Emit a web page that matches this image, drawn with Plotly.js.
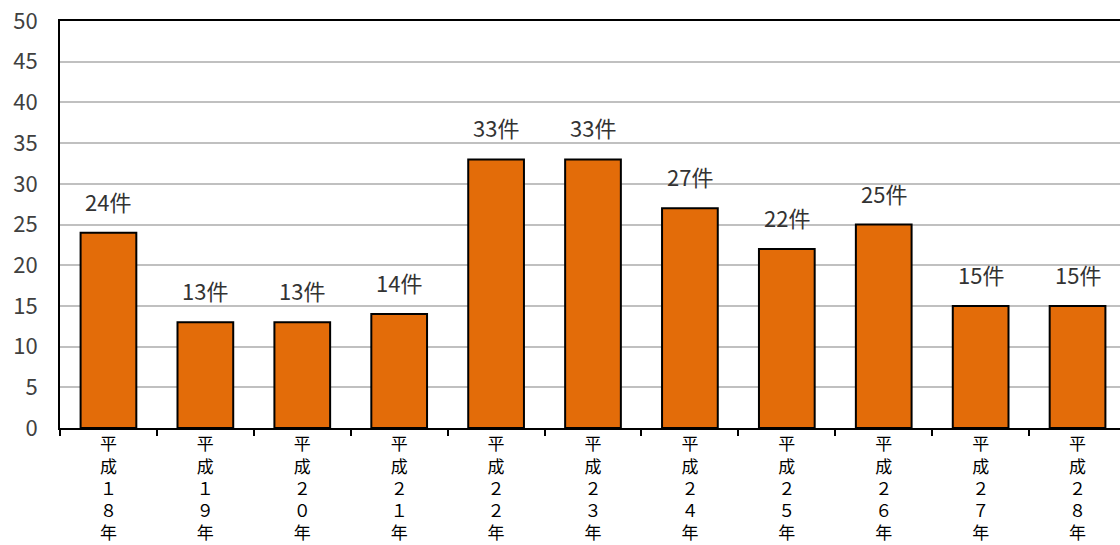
<!DOCTYPE html>
<html><head><meta charset="utf-8">
<script src="https://cdn.plot.ly/plotly-3.0.1.min.js"></script>
<style>html,body{margin:0;padding:0;overflow:hidden;background:#fff}</style>
</head><body><div id="chart"></div>
<script>
const categories = ["平<br>成<br>１<br>８<br>年","平<br>成<br>１<br>９<br>年","平<br>成<br>２<br>０<br>年","平<br>成<br>２<br>１<br>年","平<br>成<br>２<br>２<br>年","平<br>成<br>２<br>３<br>年","平<br>成<br>２<br>４<br>年","平<br>成<br>２<br>５<br>年","平<br>成<br>２<br>６<br>年","平<br>成<br>２<br>７<br>年","平<br>成<br>２<br>８<br>年"];
const values = [24,13,13,14,33,33,27,22,25,15,15];
const labelSuffix = "件";
const yTicks = [0,5,10,15,20,25,30,35,40,45,50];

const font = "'Noto Sans CJK JP', 'Open Sans', sans-serif";
const tickFont = "'Liberation Sans', 'Noto Sans CJK JP', sans-serif";
const trace = {
  type: 'bar', x: categories, y: values,
  marker: {color: '#E36C09', line: {color: '#000', width: 2}},
  hoverinfo: 'none'
};
const annotations = categories.map((c, i) => ({
  x: c, y: values[i], text: values[i] + labelSuffix, showarrow: false,
  yanchor: 'bottom', yshift: 14, font: {family: font, size: 22, color: '#333'}
}));
const layout = {
  width: 1126, height: 545,
  margin: {l: 60, r: 0, t: 21, b: 117},
  paper_bgcolor: '#fff', plot_bgcolor: '#fff',
  bargap: 0.425, showlegend: false,
  font: {family: font},
  xaxis: {
    type: 'category', showline: true, linecolor: '#000', linewidth: 2, mirror: true,
    ticks: 'outside', tickson: 'boundaries', ticklen: 6, tickcolor: '#000', tickwidth: 2,
    tickfont: {family: tickFont, size: 17, color: '#000'}, tickangle: 0, showgrid: false
  },
  yaxis: {
    range: [0, 50], tickvals: yTicks, showline: true, linecolor: '#000', linewidth: 2, mirror: true,
    showgrid: true, gridcolor: '#C0C0C0', gridwidth: 2, zeroline: false,
    ticks: '', ticklabelstandoff: 16,
    tickfont: {family: font, size: 22, color: '#404040'}
  },
  annotations: annotations
};
Plotly.newPlot('chart', [trace], layout, {displayModeBar: false, staticPlot: true});
</script></body></html>
